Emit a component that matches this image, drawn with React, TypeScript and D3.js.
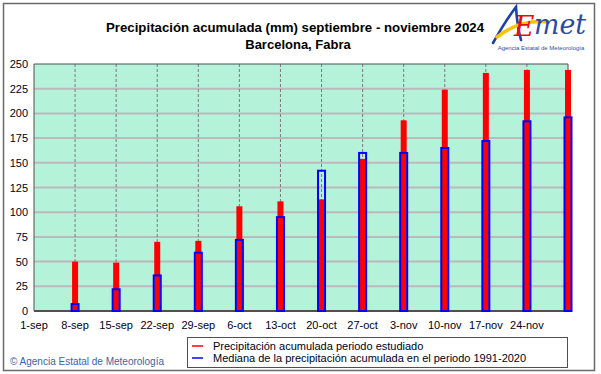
import React from "react";
import * as d3 from "d3";

const tickLabels = ["1-sep","8-sep","15-sep","22-sep","29-sep","6-oct","13-oct","20-oct","27-oct","3-nov","10-nov","17-nov","24-nov"];
const tickDays = [0,7,14,21,28,35,42,49,56,63,70,77,84];
const barDays = [7,14,21,28,35,42,49,56,63,70,77,84,91];
const observed = [50,49,70,71,106,111,113,154,193,224,241,244,244];
const median = [7,22,36,59,72,95,142,160,160,165,172,192,196];
const yTicks = [0,25,50,75,100,125,150,175,200,225,250];

const W = 601, H = 374;
const L = 34, R = 568, T = 64, B = 311;

export default function App() {
  const x = d3.scaleLinear().domain([0, 91]).range([L, R]);
  const y = d3.scaleLinear().domain([0, 250]).range([B, T]);
  const font = "Arial, 'Liberation Sans', sans-serif";
  const swoosh = d3.path();
  swoosh.moveTo(497, 37);
  swoosh.quadraticCurveTo(520, 19, 548, 22);
  const aPath = d3.path();
  aPath.moveTo(493, 43);
  aPath.quadraticCurveTo(506, 20, 516, 7);
  aPath.quadraticCurveTo(517, 25, 521, 40);
  return (
    <svg width={W} height={H} style={{ position: "absolute", left: 0, top: 0, background: "#fff" }}>
      <rect x={3.5} y={3.5} width={591} height={367} fill="#fff" stroke="#6a6a6a" strokeWidth={1.5} />
      <text x={295} y={32} textAnchor="middle" fontFamily={font} fontWeight="bold" fontSize={13} fill="#000" textLength={378} lengthAdjust="spacingAndGlyphs">
        Precipitación acumulada (mm) septiembre - noviembre 2024
      </text>
      <text x={298} y={49} textAnchor="middle" fontFamily={font} fontWeight="bold" fontSize={13} fill="#000">
        Barcelona, Fabra
      </text>
      {/* logo */}
      <g>
        <path d={aPath.toString()} fill="none" stroke="#1f3fa8" strokeWidth={2.6} strokeLinecap="round" />
        <path d={swoosh.toString()} fill="none" stroke="#f5c400" strokeWidth={3.5} strokeLinecap="round" />
        <text x={514} y={36} fontFamily="'DejaVu Serif', serif" fontStyle="italic" fontSize={28} fill="#e01010">E</text>
        <text x={534} y={34} fontFamily="'DejaVu Serif', serif" fontStyle="italic" fontSize={28} fill="#2a4aa8" textLength={52} lengthAdjust="spacingAndGlyphs">met</text>
        <text x={541} y={50} textAnchor="middle" fontFamily={font} fontSize={6} fill="#3050a0">Agencia Estatal de Meteorología</text>
      </g>
      {/* plot area */}
      <rect x={L} y={T} width={R - L} height={B - T} fill="#b4f2da" />
      {yTicks.filter(v => v > 0 && v < 250).map(v => (
        <line key={"h" + v} x1={L} x2={R} y1={y(v)} y2={y(v)} stroke="#bcb8bc" strokeWidth={2} />
      ))}
      {tickDays.filter(d => d > 0).map(d => (
        <line key={"v" + d} x1={x(d)} x2={x(d)} y1={T} y2={B} stroke="#7a7a7a" strokeWidth={1} strokeDasharray="3,2" />
      ))}
      <line x1={L} x2={R} y1={T} y2={T} stroke="#505050" strokeWidth={1} />
      <line x1={L} x2={L} y1={T} y2={B} stroke="#505050" strokeWidth={1} />
      <line x1={R} x2={R} y1={T} y2={B} stroke="#505050" strokeWidth={1} />
      <line x1={L} x2={R + 1} y1={B} y2={B} stroke="#505050" strokeWidth={2} />
      {barDays.map((d, i) => (
        <g key={"b" + d}>
          <rect x={x(d) - 3} y={y(observed[i])} width={6} height={y(0) - y(observed[i])} fill="#ff0000" />
          <rect x={x(d) - 3.5} y={y(median[i])} width={7} height={y(0) - y(median[i])} fill="none" stroke="#0000ff" strokeWidth={2} />
        </g>
      ))}
      {yTicks.map(v => (
        <text key={"yt" + v} x={28} y={y(v) + 4} textAnchor="end" fontFamily={font} fontSize={11} fill="#000020">{v}</text>
      ))}
      {tickDays.map((d, i) => (
        <text key={"xt" + d} x={x(d)} y={329} textAnchor="middle" fontFamily={font} fontSize={11} fill="#000020">{tickLabels[i]}</text>
      ))}
      {/* legend */}
      <rect x={187.5} y={337.5} width={380} height={30} fill="#fff" stroke="#505050" strokeWidth={1} />
      <line x1={192} x2={203} y1={346} y2={346} stroke="#ff0000" strokeWidth={1.5} />
      <line x1={192} x2={203} y1={358} y2={358} stroke="#0000ff" strokeWidth={1.5} />
      <text x={213} y={350} fontFamily={font} fontSize={11} fill="#000020">Precipitación acumulada periodo estudiado</text>
      <text x={213} y={362} fontFamily={font} fontSize={11} fill="#000020">Mediana de la precipitación acumulada en el periodo 1991-2020</text>
      <text x={10} y={365} fontFamily={font} fontSize={10} fill="#3a64a8" textLength={154} lengthAdjust="spacingAndGlyphs">© Agencia Estatal de Meteorología</text>
    </svg>
  );
}
